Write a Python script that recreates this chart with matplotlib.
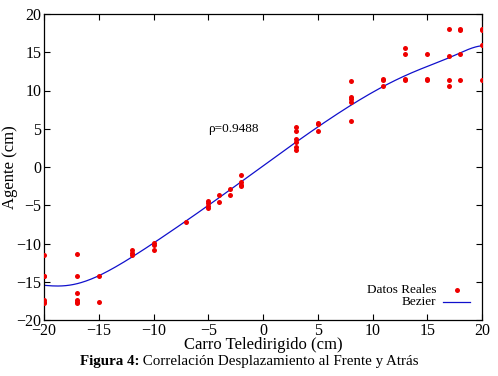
import numpy as np
import matplotlib
matplotlib.use("Agg")
import matplotlib.pyplot as plt
from math import comb

# Measured data (x: Carro Teledirigido, y: Agente), in cm
x_vals = [-20, -17, -15, -12, -10, -7, -5, -4, -3, -2, 3, 5, 8, 11, 13, 15, 17, 18, 20]
y_groups = [
    [-11.5, -14.2, -14.3, -17.4, -17.6, -17.8],
    [-11.4, -14.2, -16.5, -17.4, -17.6, -17.8],
    [-14.2, -17.7],
    [-10.9, -11.2, -11.5],
    [-9.9, -10.2, -10.9],
    [-7.15],
    [-4.5, -4.75, -5.05, -5.3],
    [-3.6, -4.6],
    [-2.9, -3.6],
    [-1.1, -2.0, -2.35, -2.5],
    [5.25, 4.7, 3.6, 3.3, 2.65, 2.2],
    [5.8, 5.6, 4.7],
    [11.2, 9.2, 8.9, 8.5, 6.05],
    [11.5, 11.4, 10.6],
    [15.5, 14.8, 11.5, 11.4],
    [14.8, 11.5, 11.4],
    [18.1, 14.5, 11.4, 10.6],
    [18.1, 17.9, 14.8, 11.4],
    [18.1, 17.9, 16.0, 11.4],
]
rho_text = "ρ=0.9488"
x_ticks = [-20, -15, -10, -5, 0, 5, 10, 15, 20]
y_ticks = [-20, -15, -10, -5, 0, 5, 10, 15, 20]

pts_x = [x for x, g in zip(x_vals, y_groups) for _ in g]
pts_y = [y for g in y_groups for y in g]

# smooth bezier (gnuplot sbezier): unique x with averaged y used as control points
cx = np.array(x_vals, float)
cy = np.array([np.mean(g) for g in y_groups])
n = len(cx) - 1
t = np.linspace(0, 1, 400)
B = np.array([comb(n, k) * t**k * (1 - t)**(n - k) for k in range(n + 1)])
bx = cx @ B
by = cy @ B

plt.rcParams['font.family'] = ['Liberation Serif', 'DejaVu Serif']
fig = plt.figure(figsize=(4.98, 3.76), dpi=100)
ax = fig.add_axes([44/498, 1-320/376, 438/498, 306/376])

ax.plot(pts_x, pts_y, 'o', color='#ee0000', markersize=3.6, markeredgewidth=0, zorder=3)
ax.plot(bx, by, '-', color='#1010cc', linewidth=0.9, zorder=2)

ax.set_xlim(-20, 20)
ax.set_ylim(-20, 20)
ax.set_xticks(x_ticks)
ax.set_yticks(y_ticks)
ax.tick_params(direction='in', top=True, right=True, length=4, width=0.8,
               labelsize=11.5, pad=2)
for s in ax.spines.values():
    s.set_linewidth(0.9)

ax.set_xlabel("Carro Teledirigido (cm)", fontsize=12, labelpad=-1)
ax.set_ylabel("Agente (cm)", fontsize=12, labelpad=-1)

ax.text(-5, 5, rho_text, fontsize=9.5, ha='left', va='center')

# legend gnuplot-style
ax.text(0.895, 0.097, "Datos Reales", transform=ax.transAxes, ha='right', va='center', fontsize=9.5)
ax.text(0.895, 0.060, "Bezier", transform=ax.transAxes, ha='right', va='center', fontsize=9.5)
ax.plot([0.943], [0.097], 'o', color='#ee0000', markersize=3.6, markeredgewidth=0, transform=ax.transAxes, clip_on=False)
ax.plot([0.911, 0.973], [0.060, 0.060], '-', color='#1010cc', linewidth=0.9, transform=ax.transAxes, clip_on=False)

# caption: bold prefix + regular text, centered as a whole
renderer = fig.canvas.get_renderer()
cap_y = 1 - 361/376
t1 = fig.text(0, cap_y, "Figura 4:", fontsize=10.8, fontweight='bold', ha='left', va='center')
t2 = fig.text(0, cap_y, " Correlación Desplazamiento al Frente y Atrás", fontsize=10.8, ha='left', va='center')
w1 = t1.get_window_extent(renderer).width / fig.bbox.width
w2 = t2.get_window_extent(renderer).width / fig.bbox.width
x0 = 0.5 - (w1 + w2) / 2
t1.set_x(x0)
t2.set_x(x0 + w1)

fig.savefig("out.png", dpi=100)
